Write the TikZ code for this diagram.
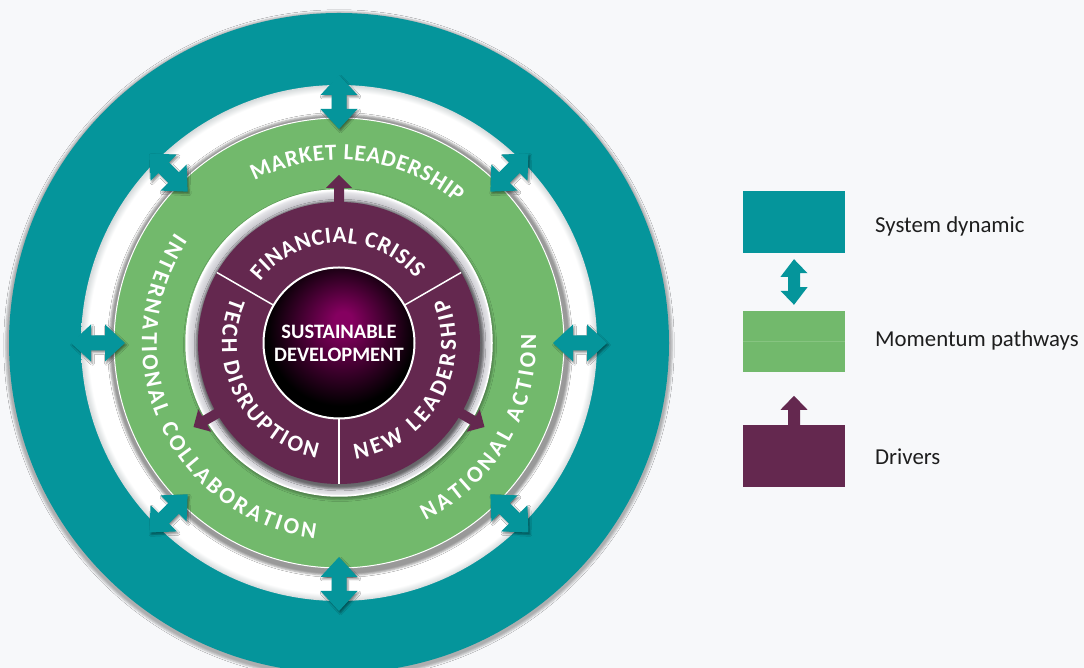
\documentclass[tikz,border=0pt]{standalone}
\usepackage{fontspec}
\setmainfont{Carlito}
\usetikzlibrary{calc,decorations.text,shadows.blur}
\definecolor{bg}{HTML}{F7F8FA}
\definecolor{tealc}{HTML}{05959B}
\definecolor{greenc}{HTML}{72B96C}
\definecolor{greenl}{HTML}{86C480}
\definecolor{purplec}{HTML}{64284F}
\definecolor{sdmag}{HTML}{850060}
\definecolor{txt}{HTML}{1E1E1E}
\definecolor{wbedge}{HTML}{D5DADB}
\definecolor{ringin}{HTML}{B8B6BE}
\definecolor{ringa}{HTML}{C4C3C9}
\definecolor{ringb}{HTML}{E4E4E8}
\pgfdeclareradialshading{whiteband}{\pgfpointorigin}{color(0bp)=(white); color(24.3bp)=(white); color(25bp)=(wbedge); color(50bp)=(wbedge)}
\pgfdeclareradialshading{ringshade}{\pgfpointorigin}{color(0bp)=(ringin); color(23bp)=(ringin); color(23.4bp)=(ringa); color(24.6bp)=(ringb); color(25bp)=(white); color(50bp)=(white)}
\pgfdeclareradialshading{sdsphere}{\pgfpoint{1.5bp}{8bp}}{color(0bp)=(sdmag); color(3bp)=(sdmag); color(25bp)=(black); color(50bp)=(black)}
\tikzset{
  ringtext/.style={decorate, decoration={text along path, text align={fit to path},
    text={|\fontsize{23}{23}\selectfont\bfseries\color{white}|#1}}},
  softshadow/.style={blur shadow={shadow xshift=1.5pt, shadow yshift=-2pt, shadow opacity=#1, shadow scale=1.0}},
  legbox/.style={inner sep=0pt, minimum width=102pt, minimum height=62pt},
  leglabel/.style={anchor=base west, inner sep=0pt, text=txt, font=\fontsize{22.8}{27}\selectfont}
}
\begin{document}
\begin{tikzpicture}[x=1pt,y=1pt]
\useasboundingbox (0,0) rectangle (1084,668);
\fill[bg] (0,0) rectangle (1084,668);
\coordinate (C) at (339,325);
% outer teal ring
\fill[tealc, blur shadow={shadow xshift=0pt, shadow yshift=-2pt, shadow opacity=30, shadow scale=1.01}] (C) circle[radius=330pt];
\shade[shading=whiteband] (C) circle[radius=258pt];
% green ring
\fill[greenc, blur shadow={shadow xshift=1pt, shadow yshift=-2pt, shadow opacity=40, shadow scale=1.025}] (C) circle[radius=225pt];
\draw[white, line width=1pt] (C) circle[radius=225pt];
% teal double arrows
\foreach \a in {0,45,...,315}{
  \fill[tealc, softshadow=45]
    ($(C)+(\a:214)$) -- ($(C)+(\a:234)+(\a+90:18.5)$) -- ($(C)+(\a:234)+(\a+90:7.5)$)
    -- ($(C)+(\a:248)+(\a+90:7.5)$) -- ($(C)+(\a:248)+(\a+90:18.5)$) -- ($(C)+(\a:268)$)
    -- ($(C)+(\a:248)+(\a-90:18.5)$) -- ($(C)+(\a:248)+(\a-90:7.5)$)
    -- ($(C)+(\a:234)+(\a-90:7.5)$) -- ($(C)+(\a:234)+(\a-90:18.5)$) -- cycle;
}
% grey ring
\shade[shading=ringshade, blur shadow={shadow xshift=1pt, shadow yshift=-2pt, shadow opacity=30, shadow scale=1.01}] (C) circle[radius=153pt];
\draw[white, line width=1.5pt] (C) circle[radius=153pt];
% purple drivers
\fill[purplec, blur shadow={shadow xshift=1pt, shadow yshift=-2pt, shadow opacity=45, shadow scale=1.02}] (C) circle[radius=141pt];
\foreach \a in {90,210,330}{
  \fill[purplec]
    ($(C)+(\a:136)+(\a+90:5)$) -- ($(C)+(\a:155)+(\a+90:5)$) -- ($(C)+(\a:155)+(\a+90:13)$)
    -- ($(C)+(\a:168)$) -- ($(C)+(\a:155)+(\a-90:13)$) -- ($(C)+(\a:155)+(\a-90:5)$)
    -- ($(C)+(\a:136)+(\a-90:5)$) -- cycle;
}
\foreach \a in {30,150,270}{
  \draw[white, line width=1.5pt] ($(C)+(\a:75)$) -- ($(C)+(\a:141)$);
}
% centre
\shade[shading=sdsphere] (C) circle[radius=75pt];
\draw[white, line width=2pt] (C) circle[radius=75.5pt];
\node[align=center, text=white, inner sep=0pt, font=\bfseries\fontsize{20.5}{23}\selectfont] (sd) at (C) {SUSTAINABLE\\DEVELOPMENT};
% ring texts
\path[ringtext={MARKET LEADERSHIP}] ($(C)+(117.5:183)$) arc[start angle=117.5, end angle=50, radius=183pt];
\path[ringtext={INTERNATIONAL COLLABORATION}] ($(C)+(146:197)$) arc[start angle=146, end angle=263, radius=197pt];
\path[ringtext={NATIONAL ACTION}] ($(C)+(296:197)$) arc[start angle=296, end angle=362.5, radius=197pt];
\path[ringtext={FINANCIAL CRISIS}] ($(C)+(142:100)$) arc[start angle=142, end angle=40, radius=100pt];
\path[ringtext={TECH DISRUPTION}] ($(C)+(157:117)$) arc[start angle=157, end angle=259, radius=117pt];
\path[ringtext={NEW LEADERSHIP}] ($(C)+(278:117)$) arc[start angle=278, end angle=382.5, radius=117pt];
% legend
\node[legbox, fill=tealc] (sysbox) at (794,446) {};
\node[legbox, fill=greenc, minimum height=61pt] (pathbox) at (794,326.5) {};
\draw[greenl, line width=0.8pt] (pathbox.west) -- (pathbox.east);
\node[legbox, fill=purplec] (drvbox) at (794,212) {};
\fill[tealc] ($(sysbox.south)+(0,-6)$) -- ++(13.5,-14) -- ++(-7.5,0) -- ++(0,-14) -- ++(7.5,0)
  -- ($(pathbox.north)+(0,6)$) -- ++(-13.5,14) -- ++(7.5,0) -- ++(0,14) -- ++(-7.5,0) -- cycle;
\fill[purplec] (drvbox.north) ++(-6,0) -- ++(0,15) -- ++(-7.5,0) -- ($(drvbox.north)+(0,29)$)
  -- ++(13.5,-14) -- ++(-7.5,0) -- ++(0,-15) -- cycle;
\node[leglabel] (syslab) at (875,435.7) {System dynamic};
\node[leglabel] (pathlab) at (875,321.3) {Momentum pathways};
\node[leglabel] (drvlab) at (875,203) {Drivers};
\end{tikzpicture}
\end{document}
